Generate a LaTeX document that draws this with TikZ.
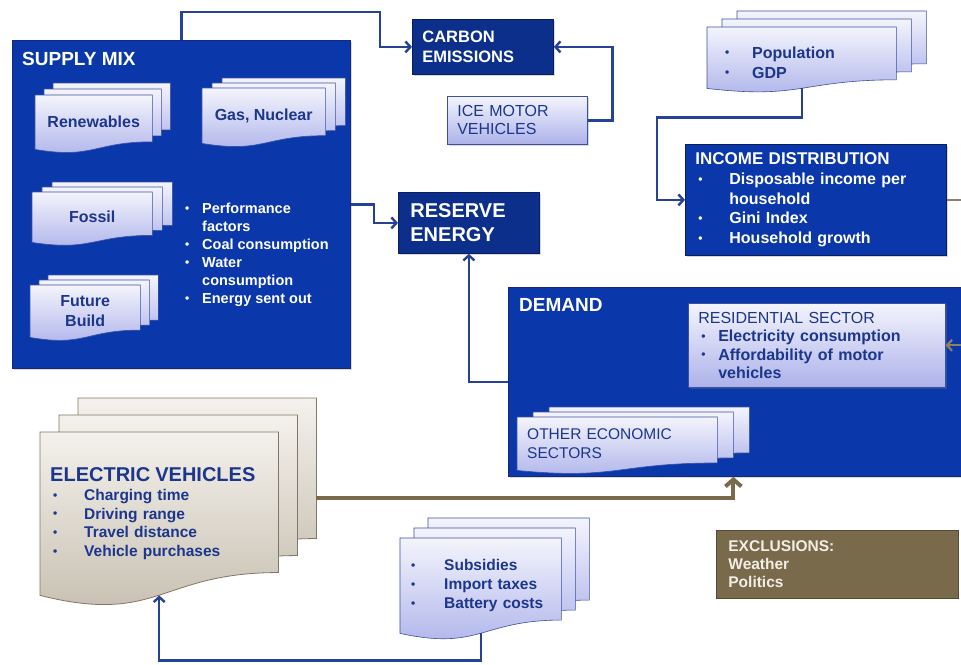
\documentclass[tikz,border=0pt]{standalone}
\usepackage{fontspec}
\setmainfont{Liberation Sans}
\usepackage{tikz}
\usetikzlibrary{arrows.meta,calc,shadows}

\definecolor{supply}{RGB}{10,56,170}
\definecolor{supplyline}{RGB}{20,42,118}
\definecolor{navy}{RGB}{12,47,140}
\definecolor{navyline}{RGB}{8,30,95}
\definecolor{conn}{RGB}{38,66,150}
\definecolor{pagetop}{RGB}{244,244,252}
\definecolor{pagebot}{RGB}{172,178,234}
\definecolor{pageline}{RGB}{60,80,160}
\definecolor{doctext}{RGB}{28,54,140}
\definecolor{beigetop}{RGB}{244,241,236}
\definecolor{beigebot}{RGB}{196,188,173}
\definecolor{beigeline}{RGB}{130,118,100}
\definecolor{evbrown}{RGB}{122,106,76}
\definecolor{greybrown}{RGB}{140,128,104}
\definecolor{excltext}{RGB}{242,238,230}

\pgfdeclarelayer{boxes}
\pgfdeclarelayer{pages}
\pgfsetlayers{boxes,pages,main}

\newcommand{\bull}[1][30pt]{\makebox[#1][l]{\hspace{3pt}\raisebox{1.2pt}{\fontsize{12}{12}\selectfont\textbullet}}}
\newcommand{\gap}[1][30pt]{\makebox[#1]{}}
% three pages behind a document node: node, dx, dy, style
\newcommand{\docpages}[4]{%
  \begin{pgfonlayer}{pages}
    \foreach \k in {2,1,0}{
      \path[#4] let \p1=(#1.north west), \p2=(#1.south east),
        \n1={(\y1-\y2)/0.93}, \n2={\k*#2}, \n3={\k*#3} in
        ({\x1+\n2},{\y1+\n3}) -- ({\x2+\n2},{\y1+\n3}) -- ({\x2+\n2},{\y1+\n3-0.8*\n1})
        .. controls ({0.5*\x1+0.5*\x2+\n2},{\y1+\n3-0.8*\n1}) and ({0.5*\x1+0.5*\x2+\n2},{\y1+\n3-1.1*\n1}) .. ({\x1+\n2},{\y2+\n3}) -- cycle;
    }
  \end{pgfonlayer}}

\begin{document}
\begin{tikzpicture}[x=1pt, y=-1pt, >={Straight Barb[length=5pt,width=11pt]},
    every node/.style={anchor=north west, inner sep=0pt},
    bigbox/.style={fill=supply, draw=supplyline, line width=0.8pt,
      drop shadow={opacity=.3, shadow xshift=2pt, shadow yshift=-2pt}},
    darkbox/.style={fill=navy, draw=navyline, line width=0.8pt, text=white, align=left,
      drop shadow={opacity=.3, shadow xshift=2pt, shadow yshift=-2pt}},
    lightbox/.style={top color=pagetop, bottom color=pagebot, draw=pageline, line width=0.6pt,
      text=doctext, align=left, drop shadow={opacity=.3, shadow xshift=2pt, shadow yshift=-2pt}},
    docnode/.style={text=doctext, font=\bfseries\fontsize{16}{20}\selectfont},
    bluepage/.style={top color=pagetop, bottom color=pagebot, draw=pageline, line width=0.6pt},
    beigepage/.style={top color=beigetop, bottom color=beigebot, draw=beigeline, line width=0.8pt},
    link/.style={draw=conn, line width=2.4pt},
    evlink/.style={draw=evbrown, line width=4pt},
    inclink/.style={draw=greybrown, line width=2.2pt}]
  \useasboundingbox (0,0) rectangle (961,664);

  % Big boxes
  \begin{pgfonlayer}{boxes}
    \fill[white] (0,0) rectangle (961,664);
    \node[bigbox, minimum width=338, minimum height=328] (supply) at (12,40) {};
    \node[bigbox, minimum width=458, minimum height=189] (demand) at (508,287) {};
  \end{pgfonlayer}
  \node[text=white, font=\bfseries\fontsize{19}{23}\selectfont] (supplytitle) at (22,52) {SUPPLY MIX};
  \node[text=white, font=\bfseries\fontsize{19}{23}\selectfont] (demandtitle) at (519,298) {DEMAND};

  % Supply mix documents
  \node[docnode, minimum width=117, minimum height=54] (ren) at (35,95) {Renewables};
  \node[docnode, minimum width=123, minimum height=55] (gas) at (202,88) {Gas, Nuclear};
  \node[docnode, minimum width=120, minimum height=50] (fos) at (32,192) {Fossil};
  \node[docnode, minimum width=110, minimum height=52, align=center] (fut) at (30,285) {Future\\Build};
  \docpages{ren}{9}{6}{bluepage}
  \docpages{gas}{10}{5}{bluepage}
  \docpages{fos}{10}{5}{bluepage}
  \docpages{fut}{9}{5}{bluepage}
  \node[text=white, font=\bfseries\fontsize{14.5}{18}\selectfont, align=left] (supplylist) at (182,203)
    {\bull[20pt]Performance\\\gap[20pt]factors\\\bull[20pt]Coal consumption\\\bull[20pt]Water\\\gap[20pt]consumption\\\bull[20pt]Energy sent out};

  % Top row
  \node[darkbox, font=\bfseries\fontsize{16.5}{20}\selectfont, minimum width=141, minimum height=55,
    inner xsep=10, text width=121] (carbon) at (412,19) {CARBON\\EMISSIONS};
  \node[lightbox, font=\fontsize{16}{18}\selectfont, minimum width=140, minimum height=48,
    inner xsep=10, text width=120] (ice) at (447,96) {ICE MOTOR\\VEHICLES};
  \node[darkbox, font=\bfseries\fontsize{20}{24}\selectfont, minimum width=141, minimum height=61,
    inner xsep=12, text width=117] (reserve) at (398,192) {RESERVE\\ENERGY};
  \node[docnode, align=left, minimum width=189, minimum height=61, inner xsep=15, text width=159] (pop) at (707,27)
    {\rule{0pt}{21pt}\bull Population\\\bull GDP};
  \docpages{pop}{15}{8}{bluepage}
  \node[darkbox, fill=supply, font=\bfseries\fontsize{16}{19.7}\selectfont, minimum width=261, minimum height=111,
    inner xsep=10, text width=241] (income) at (685,144)
    {{\fontsize{17}{20}\selectfont INCOME DISTRIBUTION}\\\bull[34pt]Disposable income per\\\gap[34pt]household\\\bull[34pt]Gini Index\\\bull[34pt]Household growth};

  % Demand side
  \node[lightbox, font=\bfseries\fontsize{16}{18.5}\selectfont, minimum width=257, minimum height=84,
    inner xsep=10, text width=237] (resid) at (688,303)
    {{\mdseries RESIDENTIAL SECTOR}\\\bull[20pt]Electricity consumption\\\bull[20pt]Affordability of motor\\\gap[20pt]vehicles};
  \node[docnode, font=\fontsize{15.5}{19}\selectfont, align=left, minimum width=200, minimum height=53,
    inner xsep=10, text width=180] (oth) at (517,417) {OTHER ECONOMIC\\SECTORS};
  \docpages{oth}{16}{5}{bluepage}

  % Bottom row
  \node[docnode, font=\bfseries\fontsize{15.5}{18.7}\selectfont, align=left, minimum width=238, minimum height=163,
    inner xsep=10, text width=218] (ev) at (40,432)
    {{\fontsize{20}{24}\selectfont ELECTRIC VEHICLES}\\\bull[34pt]Charging time\\\bull[34pt]Driving range\\\bull[34pt]Travel distance\\\bull[34pt]Vehicle purchases};
  \docpages{ev}{19}{17}{beigepage}
  \node[docnode, font=\bfseries\fontsize{15.5}{19}\selectfont, align=left, minimum width=161, minimum height=95,
    inner xsep=8, text width=145] (sub) at (400,538)
    {\bull[36pt]Subsidies\\\bull[36pt]Import taxes\\\bull[36pt]Battery costs};
  \docpages{sub}{14}{10}{bluepage}
  \node[fill=evbrown, draw=evbrown!70!black, line width=0.8pt, text=excltext, font=\bfseries\fontsize{15.5}{18}\selectfont,
    align=left, minimum width=242, minimum height=68, inner xsep=12, text width=218] (excl) at (716,530)
    {EXCLUSIONS:\\Weather\\Politics};

  % Arrows
  \draw[link,->] (supply.north) -- ++(0,-28) -| ([xshift=-32pt]carbon.west) -- (carbon.west);
  \draw[link,->] (ice.east) -- ++(25,0) |- (carbon.east);
  \draw[link,->] (supply.east) -- ++(23,0) |- (reserve.west);
  \draw[link,->] (demand.west) -| (reserve.south);
  \draw[link,->] (pop.south) -- ++(0,29) -| ([xshift=-28pt]income.west) -- (income.west);
  \draw[inclink,->] (income.east) -- ++(20,0) |- (resid.east);
  \draw[link,->] (sub.south) -- ++(0,27) -| (ev.south);
  \draw[evlink,-{Straight Barb[length=7pt,width=16pt]}] ([xshift=38pt,yshift=16pt]ev.east) -| ([xshift=-4pt]demand.south);
\end{tikzpicture}
\end{document}
